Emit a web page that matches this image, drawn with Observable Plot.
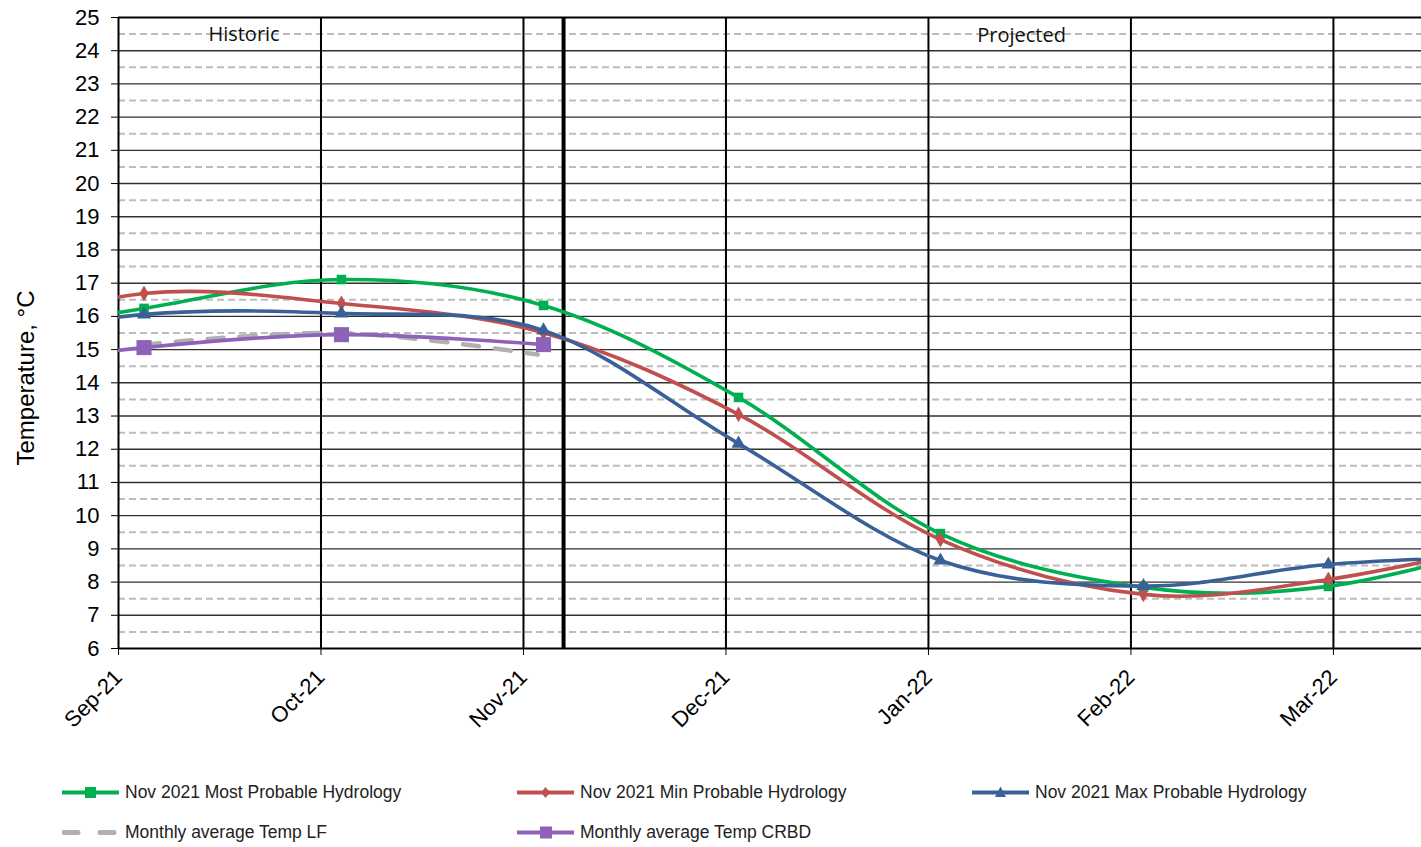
<!DOCTYPE html>
<html>
<head>
<meta charset="utf-8">
<script src="https://cdn.jsdelivr.net/npm/d3@7"></script>
<script src="https://cdn.jsdelivr.net/npm/@observablehq/plot@0.6"></script>
<style>
  body { margin: 0; background: #fff; }
  #wrap { position: relative; width: 1421px; height: 847px; overflow: hidden; }
  .leg { position: absolute; display: flex; align-items: center; font-family: "Liberation Sans", Arial, sans-serif; font-size: 17.5px; color: #222; white-space: nowrap; }
  .leg svg { margin-right: 5px; }
</style>
</head>
<body>
<div id="wrap"><div id="chart"></div><div id="legend"></div></div>
<script>
// ---- data ----
const monthTicks = [0, 1, 2, 3, 4, 5, 6];
const monthLabels = ["Sep-21", "Oct-21", "Nov-21", "Dec-21", "Jan-22", "Feb-22", "Mar-22"];
// x positions in months from Sep-21 (Aug ... Apr points, outer ones are clipped)
const pointX = [-0.87, 0.126, 1.101, 2.099, 3.062, 4.059, 5.062, 5.975, 6.97];
const mostProbable = [15.2, 16.24, 17.11, 16.33, 13.56, 9.46, 7.84, 7.87, 9.3];
const minProbable  = [15.2, 16.69, 16.39, 15.51, 13.05, 9.28, 7.63, 8.08, 9.3];
const maxProbable  = [15.1, 16.06, 16.09, 15.58, 12.17, 8.65, 7.88, 8.53, 8.8];
const lfX = [0.126, 1.101, 2.07];
const lfTemp = [15.15, 15.5, 14.85];
const crbdX = [-0.87, 0.126, 1.101, 2.099];
const crbdTemp = [14.25, 15.06, 15.45, 15.15];
const dividerX = [2.198];
const periodLabels = ["Historic", "Projected"];
const periodX = [0.62, 4.46];
const periodY = [24.5, 24.45];
const yTicks = d3.range(6, 26);
const yHalf = d3.range(6.5, 25, 1);
const yInner = d3.range(7, 25);

const seriesNames = ["Nov 2021 Most Probable Hydrology", "Nov 2021 Min Probable Hydrology", "Nov 2021 Max Probable Hydrology", "Monthly average Temp LF", "Monthly average Temp CRBD"];
const colors = ["#00B050", "#C0504D", "#3A6197", "#B0B0B0", "#8E62B8"];

const toRows = (xs, ys) => xs.map((x, i) => ({x, y: ys[i]}));
const green = toRows(pointX, mostProbable);
const red = toRows(pointX, minProbable);
const blue = toRows(pointX, maxProbable);
const gray = toRows(lfX, lfTemp);
const purple = toRows(crbdX, crbdTemp);
const periods = periodLabels.map((t, i) => ({t, x: periodX[i], y: periodY[i]}));

const lineOpts = (c, extra = {}) => Object.assign({x: "x", y: "y", stroke: c, strokeWidth: 3.6, curve: "cardinal", clip: true}, extra);

const chart = Plot.plot({
  width: 1421,
  height: 765,
  marginTop: 17,
  marginLeft: 118,
  marginRight: 0,
  marginBottom: 117,
  style: {fontFamily: "'Liberation Sans', Arial, sans-serif", fontSize: "22px", color: "#000", background: "#fff", overflow: "visible"},
  x: {domain: [0, 6.435], ticks: monthTicks, tickFormat: d => monthLabels[d], tickRotate: -45, tickSize: 7, tickPadding: 18, label: null},
  y: {domain: [6, 25], ticks: yTicks, tickSize: 7, tickPadding: 12, label: null},
  marks: [
    Plot.ruleY(yHalf, {stroke: "#BDBDBD", strokeWidth: 2, strokeDasharray: "7,4"}),
    Plot.ruleY(yInner, {stroke: "#303030", strokeWidth: 1.4}),
    Plot.ruleX(monthTicks, {stroke: "#000", strokeWidth: 2}),
    Plot.ruleY([6, 25], {stroke: "#000", strokeWidth: 2}),
    Plot.ruleX(dividerX, {stroke: "#000", strokeWidth: 4}),
    Plot.text(periods, {x: "x", y: "y", text: "t", fontFamily: "'Open Sans', sans-serif", fontSize: 20, fill: "#111"}),
    Plot.line(green, lineOpts(colors[0])),
    Plot.dot(green, {x: "x", y: "y", symbol: "square", r: 5.4, fill: colors[0], stroke: "none", clip: true}),
    Plot.line(red, lineOpts(colors[1])),
    Plot.dot(red, {x: "x", y: "y", symbol: "diamond", r: 4.8, fill: colors[1], stroke: "none", clip: true}),
    Plot.line(blue, lineOpts(colors[2])),
    Plot.dot(blue, {x: "x", y: "y", symbol: "triangle", r: 5.2, fill: colors[2], stroke: "none", clip: true}),
    Plot.line(gray, lineOpts(colors[3], {strokeWidth: 4.5, strokeDasharray: "16,16", strokeLinecap: "round"})),
    Plot.line(purple, lineOpts(colors[4])),
    Plot.dot(purple, {x: "x", y: "y", symbol: "square", r: 8.5, fill: colors[4], stroke: "none", clip: true}),
    Plot.text(["Temperature, °C"], {frameAnchor: "left", textAnchor: "middle", dx: -92, dy: 45, rotate: -90, fontSize: 24, fill: "#000"})
  ]
});
document.getElementById("chart").appendChild(chart);

// ---- legend ----
const legendPos = [[62, 792], [517, 792], [972, 792], [62, 832], [517, 832]];
const markerSvg = [
  c => `<rect x="23" y="2" width="11" height="11" fill="${c}"/>`,
  c => `<path d="M28.5,2 L33,7.5 L28.5,13 L24,7.5 Z" fill="${c}"/>`,
  c => `<path d="M28.5,1.5 L34,12 L23,12 Z" fill="${c}"/>`,
  c => ``,
  c => `<rect x="23" y="1.5" width="12" height="12" fill="${c}"/>`
];
const legend = document.getElementById("legend");
seriesNames.forEach((name, i) => {
  const [lx, ly] = legendPos[i];
  const c = colors[i];
  const lineEl = i === 3
    ? `<line x1="2" y1="7.5" x2="56" y2="7.5" stroke="${c}" stroke-width="5" stroke-linecap="round" stroke-dasharray="14,22"/>`
    : `<line x1="0" y1="7.5" x2="57" y2="7.5" stroke="${c}" stroke-width="4"/>`;
  const div = document.createElement("div");
  div.className = "leg";
  div.style.left = lx + "px";
  div.style.top = (ly - 10) + "px";
  div.innerHTML = `<svg width="58" height="15">${lineEl}${markerSvg[i](c)}</svg><span>${name}</span>`;
  legend.appendChild(div);
});
</script>
</body>
</html>
